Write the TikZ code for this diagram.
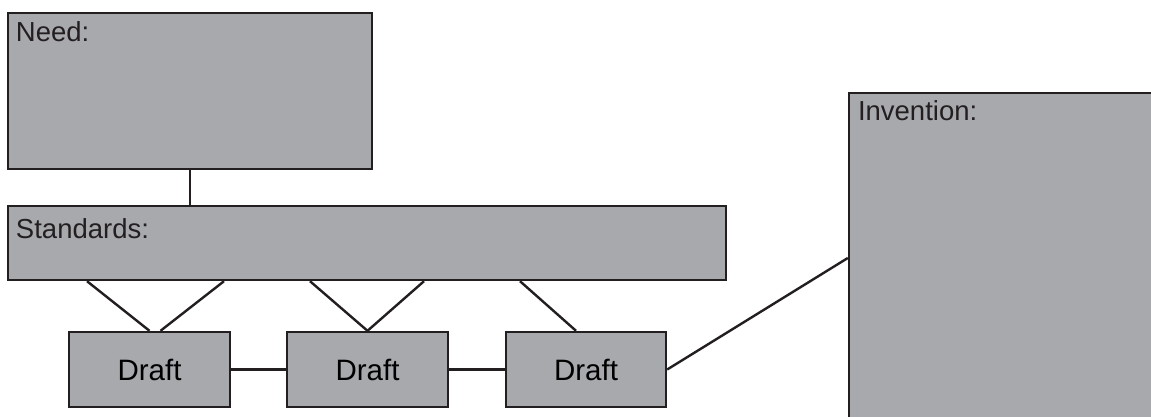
\documentclass[tikz,border=0pt]{standalone}
\usepackage{fontspec}
\setmainfont{Liberation Sans}
\definecolor{boxgray}{HTML}{A8A9AD}
\definecolor{inkline}{HTML}{231F20}
\begin{document}
\begin{tikzpicture}[
    x=1pt, y=-1pt,
    box/.style={draw=inkline, fill=boxgray, line width=2.4pt, inner sep=0pt},
    title/.style={anchor=north west, inner sep=0pt, text=inkline, font=\fontsize{27.5}{32}\selectfont},
    link/.style={draw=inkline, line width=2.4pt}
]
\path[use as bounding box] (0,0) rectangle (1151,417);
\clip (0,0) rectangle (1151,417);
\node[box, minimum width=364pt, minimum height=156pt,
      label={[title, xshift=9pt, yshift=-10pt]north west:{Need:}}] (need) at (190,91) {};
\node[box, minimum width=718pt, minimum height=74pt,
      label={[title, xshift=9pt, yshift=-14pt]north west:{Standards:}}] (standards) at (367,243) {};
\node[box, minimum width=320pt, minimum height=330pt,
      label={[title, xshift=10pt, yshift=-9pt]north west:{Invention:}}] (invention) at (1009,258) {};
\node[box, minimum width=161pt, minimum height=75pt, font=\fontsize{29.5}{34}\selectfont] (draft1) at (149.5,369.5) {Draft};
\node[box, minimum width=161pt, minimum height=75pt, font=\fontsize{29.5}{34}\selectfont] (draft2) at (367.5,369.5) {Draft};
\node[box, minimum width=160pt, minimum height=75pt, font=\fontsize{29.5}{34}\selectfont] (draft3) at (586,369.5) {Draft};
\draw[link] (need.south) -- (need.south |- standards.north);
\draw[link] ([xshift=-280pt]standards.south) -- (draft1.north);
\draw[link] ([xshift=-143pt]standards.south) -- ([xshift=11pt]draft1.north);
\draw[link] ([xshift=-57pt]standards.south) -- (draft2.north);
\draw[link] ([xshift=57pt]standards.south) -- (draft2.north);
\draw[link] ([xshift=153pt]standards.south) -- ([xshift=-10pt]draft3.north);
\draw[link] (draft1.east) -- (draft2.west);
\draw[link] (draft2.east) -- (draft3.west);
\draw[link] (draft3.east) -- (invention.west);
\end{tikzpicture}
\end{document}
